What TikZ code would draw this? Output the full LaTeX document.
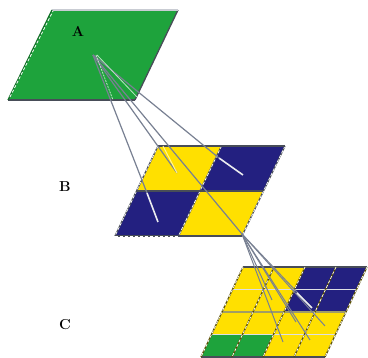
\documentclass[tikz,border=0pt]{standalone}
\usepackage{xcolor}
\usetikzlibrary{arrows.meta,positioning}
\definecolor{cellgreen}{RGB}{30,163,60}
\definecolor{cellyellow}{RGB}{255,224,0}
\definecolor{cellblue}{RGB}{35,32,128}
\definecolor{rayblue}{RGB}{120,128,146}
\begin{document}
\begin{tikzpicture}[
  x=1pt,
  y=-1pt,
  edge/.style={draw=rayblue!60!black, line width=1.3pt},
  edgedash/.style={draw=white, line width=0.7pt, dash pattern=on 3pt off 2pt},
  rowline/.style={draw=white!75!rayblue, line width=1.5pt},
  ray/.style={draw=rayblue, line width=1.2pt},
  rayin/.style={draw=white!85!rayblue, line width=1.6pt},
  lbl/.style={font=\bfseries\Large, inner sep=0pt}
]
\useasboundingbox (0,0) rectangle (368,358);

% level A
\fill[cellgreen] (52,10) -- (178,10) -- (135,100) -- (8,100) -- cycle;
\draw[edge] (135,100) -- (8,100);
\draw[edge] (135,100) -- (178,10);
\draw[edge, draw=white!60!rayblue] (52,10) -- (178,10);
\draw[edge, draw=cellgreen!70!black] (8,100) -- (52,10);
\draw[edgedash] (10,97) -- (53,11);

% level B
\begin{scope}[shift={(158,146)}, x={(63.5pt,0pt)}, y={(-21.5pt,-45pt)}]
  \foreach \c/\r/\col in {0/0/cellyellow,1/0/cellblue,0/1/cellblue,1/1/cellyellow}
    \fill[\col] (\c,\r) -- ++(1,0) -- ++(0,1) -- ++(-1,0) -- cycle;
  \foreach \c in {0,1,2} {
    \draw[edge] (\c,0) -- (\c,2);
    \draw[edgedash] (\c,0) -- (\c,2);
  }
  \foreach \r in {0,1,2}
    \draw[edge] (0,\r) -- (2,\r);
  \draw[edgedash] (0,2) -- (1,2);
\end{scope}

% level C
\begin{scope}[shift={(243,267)}, x={(31pt,0pt)}, y={(-10.5pt,-22.5pt)}]
  \foreach \c/\r/\col in {0/0/cellyellow,1/0/cellyellow,2/0/cellblue,3/0/cellblue,
                          0/1/cellyellow,1/1/cellyellow,2/1/cellblue,3/1/cellblue,
                          0/2/cellyellow,1/2/cellyellow,2/2/cellyellow,3/2/cellyellow,
                          0/3/cellgreen,1/3/cellgreen,2/3/cellyellow,3/3/cellyellow}
    \fill[\col] (\c,\r) -- ++(1,0) -- ++(0,1) -- ++(-1,0) -- cycle;
  \foreach \r in {1,3}
    \draw[rowline] (0,\r) -- (4,\r);
  \draw[edge, draw=rayblue!70!cellyellow] (0,2) -- (4,2);
  \draw[edge] (0,0) -- (4,0);
  \draw[edge] (0,4) -- (4,4);
  \foreach \c in {0,1,2,3,4} {
    \draw[edge, draw=black!65!cellyellow] (\c,0) -- (\c,4);
    \draw[edgedash] (\c,0) -- (\c,4);
  }
\end{scope}

\node[lbl] (labelA) at (78,31) {A};
\node[lbl] (labelB) at (65,187) {B};
\node[lbl] (labelC) at (65,325) {C};

% rays from A to B
\coordinate (apexA) at (93,55);
\coordinate (apexB) at (242,234);
\coordinate (hitB1) at (158,222);
\coordinate (hitB2) at (177,173);
\coordinate (hitB3) at (243,175);
\coordinate (edgeB1) at (147,193);
\coordinate (edgeB3) at (219,158);
\draw[rayin] (edgeB1) -- (hitB1);
\draw[rayin] (edgeB3) -- (hitB3);
\draw[ray] (apexA) -- (edgeB1);
\draw[ray] (apexA) -- (hitB2);
\draw[ray] (apexA) -- (apexB);
\draw[ray] (apexA) -- (edgeB3);
\draw[rayin, draw=white!70!cellgreen, line width=0.8pt, dash pattern=on 2pt off 1pt] (96,55) -- (113,100);
\draw[rayin, draw=white!70!cellgreen, line width=0.8pt] (97,55) -- (137,97);
\draw[rayin, draw=white!60!cellyellow, line width=1pt] (163,146) -- (hitB2);

% rays from B to C
\coordinate (hitC1) at (312,308);
\coordinate (hitC2) at (325,326);
\coordinate (hitC3) at (283,342);
\coordinate (hitC4) at (310,340);
\coordinate (hitC5) at (272,300);
\coordinate (hitC6) at (296,322);
\foreach \hit in {hitC1,hitC2,hitC3,hitC4,hitC5,hitC6}
  \draw[ray, line width=1pt] (apexB) -- (\hit);
\draw[rayin] (297,293) -- (hitC1);
\end{tikzpicture}
\end{document}
